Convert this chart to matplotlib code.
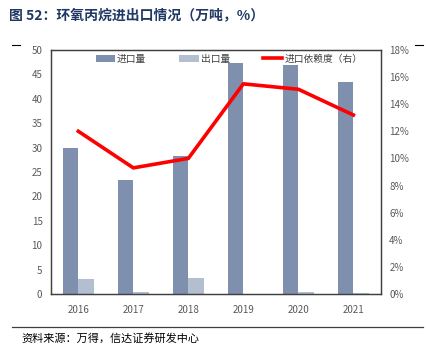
import numpy as np
import matplotlib
matplotlib.use("Agg")
import matplotlib.pyplot as plt
from matplotlib.ticker import FuncFormatter

plt.rcParams['font.family'] = ['Noto Sans CJK SC', 'DejaVu Sans']

years = ['2016', '2017', '2018', '2019', '2020', '2021']
imports = [29.9, 23.4, 28.3, 47.4, 46.9, 43.4]
exports = [3.1, 0.3, 3.3, 0.05, 0.3, 0.2]
dependency = [12.0, 9.3, 10.0, 15.5, 15.1, 13.2]

C_IMP = '#7f8fae'
C_EXP = '#b3bed0'
C_LINE = '#ff0000'
C_TICK = '#595959'

fig = plt.figure(figsize=(4.27, 3.62), dpi=100)
ax = fig.add_axes([0.119, 0.188, 0.773, 0.674])
ax2 = ax.twinx()

x = np.arange(len(years))
w = 0.28
ax.bar(x - w / 2, imports, w, color=C_IMP, label='进口量', zorder=2)
ax.bar(x + w / 2, exports, w, color=C_EXP, label='出口量', zorder=2)
ax2.plot(x, dependency, color=C_LINE, lw=2.6, label='进口依赖度（右）')

ax.set_xlim(-0.5, len(years) - 0.5)
ax.set_ylim(0, 50)
ax.set_yticks(range(0, 51, 5))
ax2.set_ylim(0, 18)
ax2.set_yticks(range(0, 19, 2))
ax2.yaxis.set_major_formatter(FuncFormatter(lambda v, p: f'{v:.0f}%'))
ax.set_xticks(x)
ax.set_xticklabels(years)

for a in (ax, ax2):
    a.tick_params(length=0, labelsize=7, colors=C_TICK, pad=6)
    for s in a.spines.values():
        s.set_color('#404040')
        s.set_linewidth(0.9)
ax.tick_params(axis='x', pad=8)

h1, l1 = ax.get_legend_handles_labels()
h2, l2 = ax2.get_legend_handles_labels()
ax.legend(h1 + h2, l1 + l2, loc='upper center', ncol=3, frameon=False,
          fontsize=7, bbox_to_anchor=(0.54, 1.02), handlelength=2.0,
          columnspacing=3.4, handletextpad=0.2, labelcolor='#404040')

fig.text(0.02, 0.955, '图 52：环氧丙烷进出口情况（万吨，%）', fontsize=10,
         fontweight='bold', color='#1f3864', va='center')

# small corner marks and bottom rule
fig.add_artist(plt.Line2D([12/427, 20/427], [1-45/362, 1-45/362], color='black', lw=0.8))
fig.add_artist(plt.Line2D([415/427, 423/427], [1-45/362, 1-45/362], color='black', lw=0.8))
fig.add_artist(plt.Line2D([12/427, 423/427], [1-327/362, 1-327/362], color='#404040', lw=0.9))

fig.text(0.05, 1 - 338/362, '资料来源：万得，信达证券研发中心', fontsize=8,
         style='italic', color='black', va='center')

fig.savefig('out.png', dpi=100)
